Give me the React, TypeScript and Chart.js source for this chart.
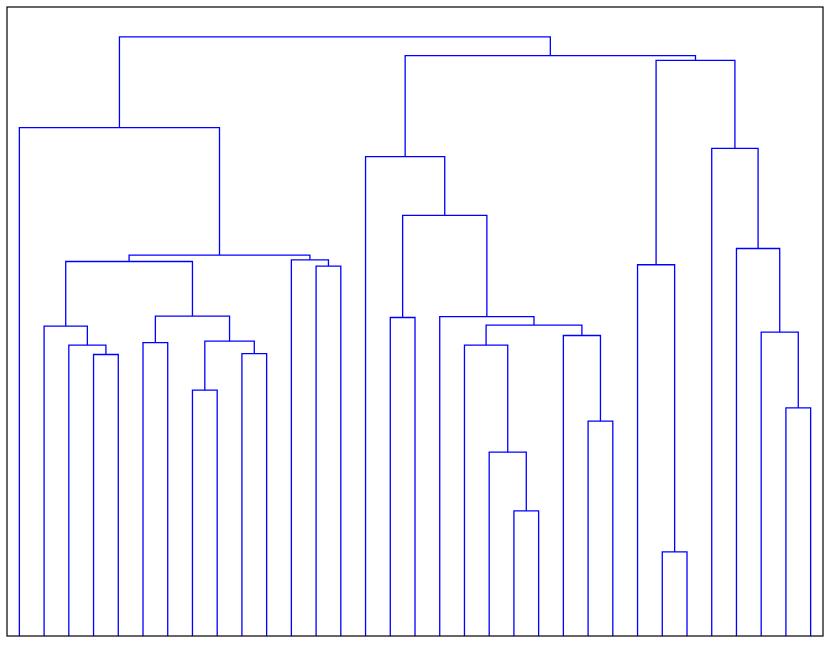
import React, { useEffect, useRef } from "react";
import { Chart, registerables } from "chart.js";

Chart.register(...registerables);

// Dendrogram: 33 leaves in display order, 32 merges (scipy-style linkage).
// Ids 0..32 are leaves; id 33 + k is the cluster created by merge k.
const LEAF_COUNT = 33;
const mergeLeft = [26, 20, 19, 23, 31, 7, 3, 9, 2, 18, 5, 38, 22, 30, 1, 42, 15, 17, 43, 12, 25, 47, 11, 54, 29, 49, 14, 28, 0, 53, 59, 61];
const mergeRight = [27, 21, 34, 24, 32, 8, 4, 10, 39, 35, 6, 40, 36, 37, 41, 45, 16, 48, 44, 13, 33, 51, 52, 55, 46, 50, 58, 57, 56, 60, 62, 63];
const mergeHeight = [1.403, 2.088, 3.068, 3.586, 3.808, 4.104, 4.699, 4.715, 4.856, 4.856, 4.899, 4.922, 5.016, 5.073, 5.173, 5.19, 5.317, 5.333, 5.34, 6.175, 6.197, 6.252, 6.28, 6.359, 6.469, 7.02, 8.001, 8.139, 8.485, 9.609, 9.688, 10.0];

const LINK_COLOR = "#0000ff";

function buildDatasets() {
  const pos: number[] = [];
  const ht: number[] = [];
  for (let i = 0; i < LEAF_COUNT; i++) {
    pos.push(5 + 10 * i);
    ht.push(0);
  }
  const datasets: any[] = [];
  for (let k = 0; k < mergeHeight.length; k++) {
    const l = mergeLeft[k];
    const r = mergeRight[k];
    const h = mergeHeight[k];
    datasets.push({
      data: [
        { x: pos[l], y: ht[l] },
        { x: pos[l], y: h },
        { x: pos[r], y: h },
        { x: pos[r], y: ht[r] },
      ],
      borderColor: LINK_COLOR,
      backgroundColor: LINK_COLOR,
      borderWidth: 1.3,
      pointRadius: 0,
      pointHoverRadius: 0,
      fill: false,
      tension: 0,
    });
    pos.push((pos[l] + pos[r]) / 2);
    ht.push(h);
  }
  return datasets;
}

const framePlugin = {
  id: "frame",
  afterDraw(chart: any) {
    const { ctx, chartArea } = chart;
    ctx.save();
    ctx.strokeStyle = "#000000";
    ctx.lineWidth = 1.2;
    ctx.strokeRect(chartArea.left, chartArea.top, chartArea.right - chartArea.left, chartArea.bottom - chartArea.top);
    ctx.restore();
  },
};

export default function App() {
  const ref = useRef<HTMLCanvasElement | null>(null);
  useEffect(() => {
    document.body.style.margin = "0";
    const chart = new Chart(ref.current as HTMLCanvasElement, {
      type: "line",
      data: { datasets: buildDatasets() },
      options: {
        animation: false,
        responsive: false,
        events: [],
        layout: { padding: { left: 7, right: 7, top: 7, bottom: 9 } },
        plugins: { legend: { display: false }, tooltip: { enabled: false } },
        scales: {
          x: { type: "linear", min: 0, max: LEAF_COUNT * 10, display: false },
          y: { type: "linear", min: 0, max: 10.5, display: false },
        },
      },
      plugins: [framePlugin],
    });
    return () => chart.destroy();
  }, []);
  return (
    <div style={{ width: 830, height: 645, background: "#ffffff" }}>
      <canvas ref={ref} width={830} height={645} />
    </div>
  );
}
